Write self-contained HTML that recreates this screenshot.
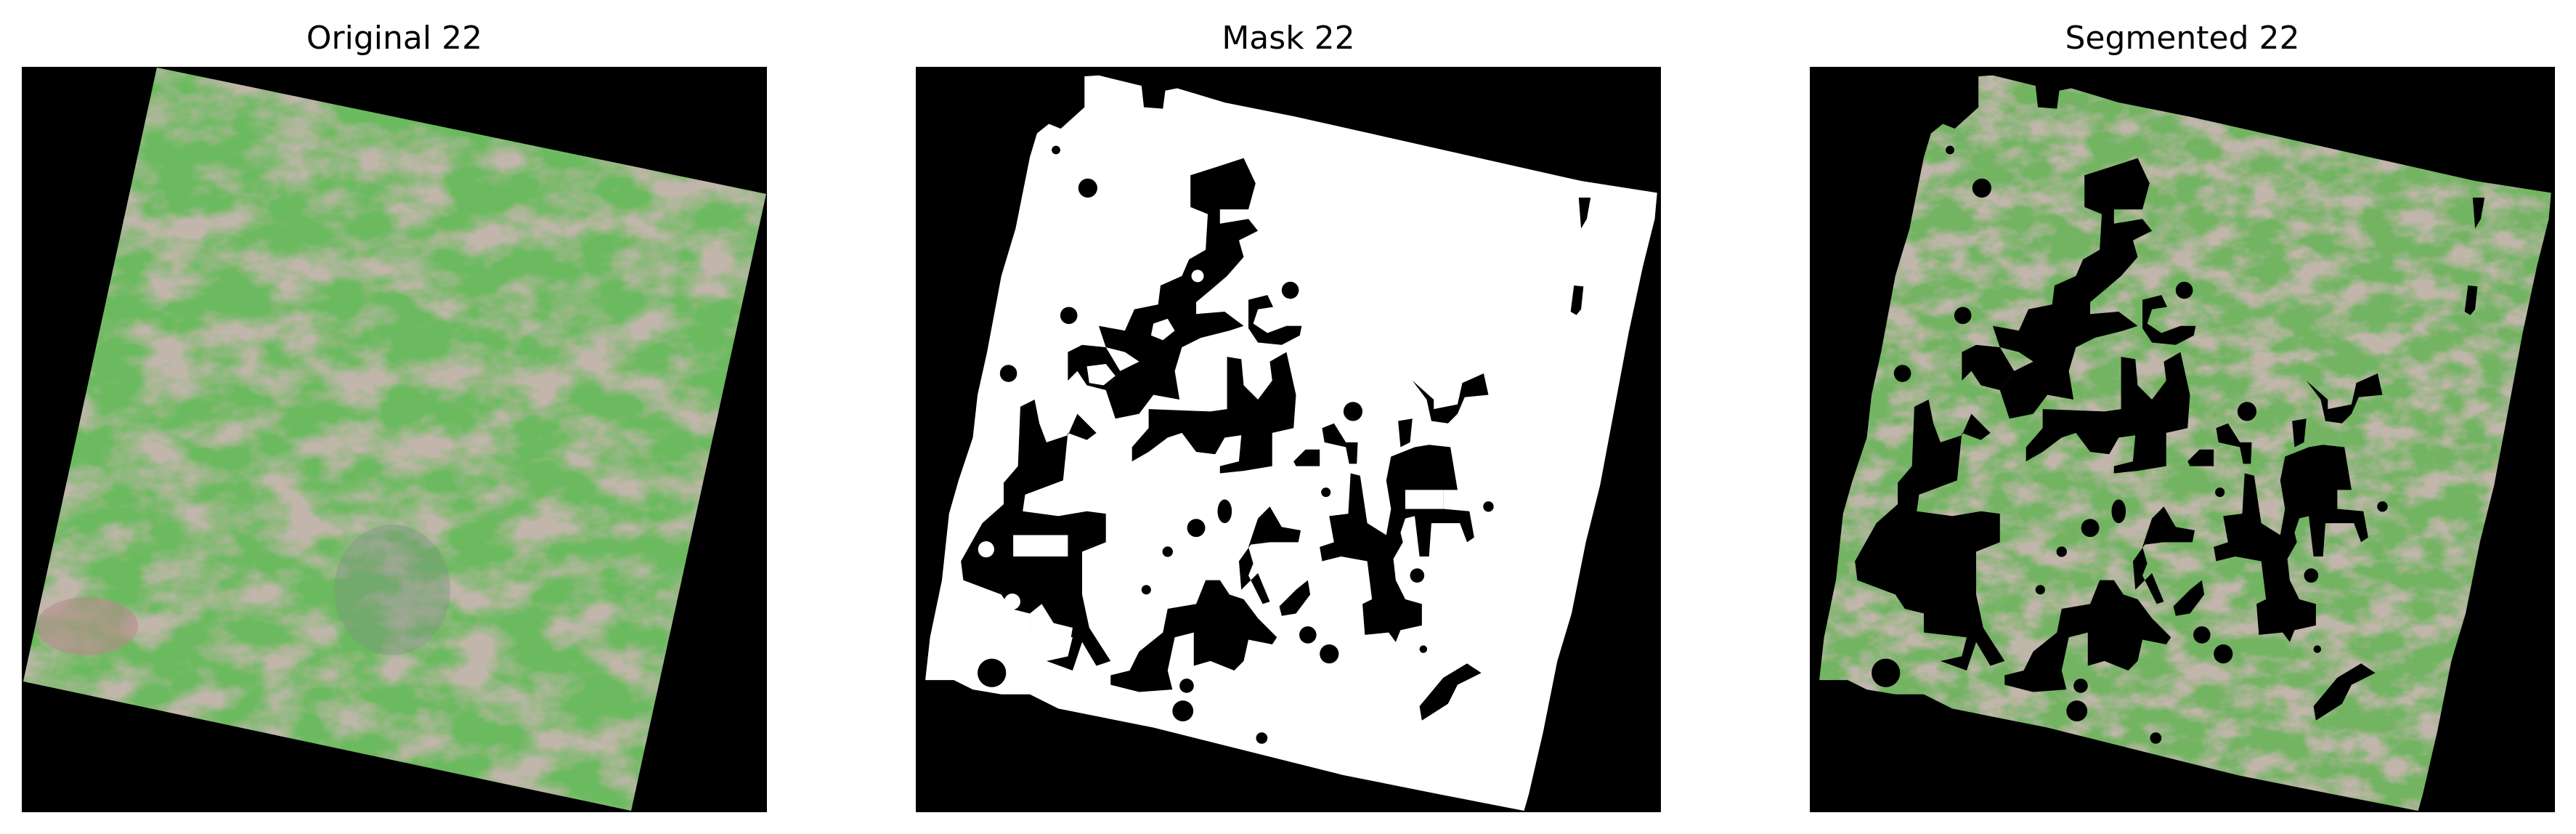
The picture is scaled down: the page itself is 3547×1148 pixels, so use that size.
<!DOCTYPE html>
<html><head><meta charset="utf-8"><style>
html,body{margin:0;padding:0;background:#fff;}
body{width:3547px;height:1148px;position:relative;overflow:hidden;font-family:"DejaVu Sans","Liberation Sans",sans-serif;}
.title{position:absolute;top:28px;font-size:44px;color:#000;text-align:center;width:1026px;line-height:50px;}
svg{position:absolute;top:92px;}
</style></head><body>
<div class="title" style="left:30px">Original 22</div>
<div class="title" style="left:1261px">Mask 22</div>
<div class="title" style="left:2492px">Segmented 22</div>

<svg width="0" height="0" style="position:absolute">
<defs>
<filter id="tex" x="0" y="0" width="100%" height="100%">
<feTurbulence type="fractalNoise" baseFrequency="0.012 0.02" numOctaves="4" seed="7" result="n"/>
<feColorMatrix in="n" type="matrix" values="0 0 0 0 0.54  0 0 0 0 0.47  0 0 0 0 0.41  0 0 0 -3.0 1.85"/>
</filter>
<path id="outline" d="M355,20 L385,18 L475,40 L480,85 L520,88 L525,50 L550,45 L650,75 L800,105 L1000,150 L1200,195 L1400,240 L1560,265 L1555,320 L1530,420 L1500,560 L1470,720 L1440,880 L1410,1000 L1380,1150 L1350,1250 L1320,1400 L1290,1530 L1280,1565 L1100,1530 L900,1490 L700,1440 L500,1390 L300,1350 L240,1320 L180,1320 L120,1310 L80,1290 L20,1290 L30,1200 L55,1080 L70,940 L90,870 L120,780 L130,690 L150,600 L180,440 L210,340 L240,190 L255,140 L280,120 L305,130 L355,85 Z"/>
<g id="holes" fill="#000">
<polygon points="578,228 635,210 690,192 715,245 700,300 640,300 615,310 578,295"/>
<polygon points="615,300 640,300 640,330 700,320 720,345 680,365 690,400 655,440 620,470 590,495 590,520 650,515 690,545 660,555 600,570 560,590 545,640 555,700 500,690 470,730 420,740 400,680 430,640 470,620 440,600 400,590 385,545 440,555 460,510 510,500 515,460 560,440 575,405 610,385"/>
<polygon points="320,600 350,585 400,590 430,640 400,680 360,670 340,640 320,660"/>
<polygon points="490,720 620,725 655,720 655,610 685,615 690,670 720,700 750,660 745,620 780,600 800,690 795,760 750,770 750,840 690,850 640,855 640,840 680,830 685,775 650,780 630,815 590,810 560,770 530,780 490,810 455,830 455,800 490,760"/>
<polygon points="700,490 740,480 752,505 720,510 710,540 740,560 780,545 812,545 808,565 770,585 720,580 700,550"/>
<polygon points="220,715 250,700 260,750 275,790 320,775 340,730 380,770 360,785 320,770 310,870 230,900 225,935 300,945 360,935 400,940 400,1000 350,1020 350,1110 365,1180 410,1250 380,1260 350,1210 330,1270 275,1250 320,1240 330,1200 240,1190 240,1150 200,1140 180,1110 100,1080 95,1040 140,960 185,920 185,875 215,840"/>
<polygon points="410,1280 450,1270 470,1230 520,1190 530,1140 590,1130 610,1080 640,1080 660,1110 690,1120 720,1160 760,1200 750,1215 700,1205 690,1250 670,1270 620,1250 585,1260 585,1190 545,1200 530,1270 540,1310 470,1315 410,1300"/>
<polygon points="870,945 910,940 915,855 935,860 950,960 990,985 1000,930 990,870 1000,820 1050,800 1080,795 1125,800 1140,890 1110,890 1110,930 1165,935 1175,990 1160,1000 1145,960 1085,960 1080,1030 1060,1030 1050,945 1030,950 1020,980 1025,1000 1005,1035 1010,1080 1030,1120 1065,1130 1065,1175 1020,1185 1010,1210 995,1190 945,1195 940,1130 960,1120 950,1040 895,1030 855,1040 850,1010 880,1000"/>
<polygon points="720,950 745,925 770,968 810,975 805,1000 745,1000 705,1005 680,1040 685,1100 720,1065 745,1125 730,1130 700,1070 710,1045 700,1010"/>
<polygon points="1045,660 1090,700 1090,720 1140,710 1150,665 1195,645 1205,690 1155,695 1140,730 1120,750 1085,745 1075,700"/>
<polygon points="1015,745 1045,740 1040,790 1020,800"/>
<polygon points="1395,275 1420,275 1412,320 1400,340"/>
<polygon points="1385,460 1405,462 1400,510 1390,522 1378,515"/>
<polygon points="1060,1345 1110,1285 1160,1255 1190,1275 1140,1300 1120,1340 1065,1375"/>
<polygon points="765,1135 800,1100 825,1080 830,1110 800,1150 770,1155"/>
<polygon points="855,760 880,750 905,790 930,790 928,835 912,835 905,800 860,790"/>
<polygon points="795,830 820,805 850,805 850,840 800,840"/>
<circle cx="295" cy="175" r="9"/><circle cx="362" cy="255" r="20"/><circle cx="322" cy="523" r="18"/>
<circle cx="195" cy="645" r="18"/><circle cx="788" cy="470" r="18"/><circle cx="920" cy="725" r="20"/>
<ellipse cx="650" cy="935" rx="15" ry="25"/><circle cx="590" cy="970" r="19"/><circle cx="530" cy="1020" r="11"/>
<circle cx="485" cy="1100" r="10"/><circle cx="570" cy="1302" r="15"/><circle cx="562" cy="1355" r="22"/>
<circle cx="825" cy="1195" r="18"/><circle cx="870" cy="1235" r="20"/><circle cx="1055" cy="1070" r="15"/>
<circle cx="1205" cy="925" r="11"/><circle cx="863" cy="895" r="10"/><circle cx="728" cy="1412" r="12"/>
<circle cx="1068" cy="1225" r="8"/><circle cx="160" cy="1275" r="30"/>
</g>
<g id="islands">
<circle cx="593" cy="440" r="13"/><circle cx="148" cy="1015" r="17"/>
<rect x="205" y="985" width="115" height="45"/><circle cx="203" cy="1125" r="17"/>
<polygon points="240,1150 265,1130 290,1170 330,1180 320,1240 275,1250 240,1190"/>
<rect x="1030" y="890" width="80" height="40"/>
<polygon points="360,630 400,625 420,650 395,670 365,665"/>
<polygon points="500,540 530,530 545,555 520,575 495,565"/>
</g>
</defs>
</svg>

<svg style="left:30px" width="1026" height="1026" viewBox="0 0 1026 1026">
<rect width="1026" height="1026" fill="#000"/>
<clipPath id="c1"><polygon points="186,1 1025,175 839,1024 2,846"/></clipPath>
<g clip-path="url(#c1)">
<rect width="1026" height="1026" fill="#6cba5f"/>
<rect width="1026" height="1026" filter="url(#tex)"/>
<ellipse cx="510" cy="720" rx="80" ry="90" fill="#7f8a88" opacity="0.35"/>
<ellipse cx="90" cy="770" rx="70" ry="40" fill="#b48a8a" opacity="0.6"/>
</g>
</svg>

<svg style="left:1261px" width="1026" height="1026" viewBox="0 0 1568 1568">
<rect width="1568" height="1568" fill="#000"/>
<use href="#outline" fill="#fff"/>
<use href="#holes"/>
<use href="#islands" fill="#fff"/>
</svg>

<svg style="left:2492px" width="1026" height="1026" viewBox="0 0 1568 1568">
<rect width="1568" height="1568" fill="#000"/>
<clipPath id="c3"><use href="#outline"/></clipPath>
<clipPath id="c4"><use href="#islands"/></clipPath>
<g clip-path="url(#c3)">
<rect width="1568" height="1568" fill="#73b463"/>
<rect width="1568" height="1568" filter="url(#tex)"/>
</g>
<use href="#holes"/>
<g clip-path="url(#c4)">
<rect width="1568" height="1568" fill="#7fa46c"/>
</g>
</svg>
</body></html>
